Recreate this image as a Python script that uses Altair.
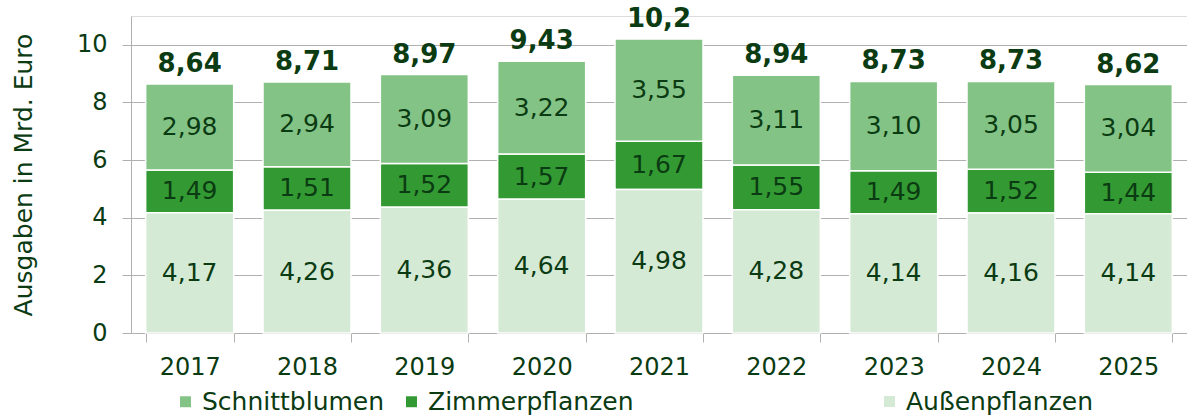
import altair as alt
import pandas as pd

years = ["2017", "2018", "2019", "2020", "2021", "2022", "2023", "2024", "2025"]
aussen = [4.17, 4.26, 4.36, 4.64, 4.98, 4.28, 4.14, 4.16, 4.14]
zimmer = [1.49, 1.51, 1.52, 1.57, 1.67, 1.55, 1.49, 1.52, 1.44]
schnitt = [2.98, 2.94, 3.09, 3.22, 3.55, 3.11, 3.10, 3.05, 3.04]
totals = [8.64, 8.71, 8.97, 9.43, 10.2, 8.94, 8.73, 8.73, 8.62]

series = ["Schnittblumen", "Zimmerpflanzen", "Außenpflanzen"]
colors = ["#84c386", "#339933", "#d5ead5"]
TXT = "#0b3b12"
GRID = "#b0b0b0"
FONT = "DejaVu Sans"

rows = []
for i, y in enumerate(years):
    base = 0.0
    for name, vals in (("Außenpflanzen", aussen), ("Zimmerpflanzen", zimmer), ("Schnittblumen", schnitt)):
        v = vals[i]
        rows.append({"Jahr": y, "Kategorie": name, "Wert": v, "lo": base, "hi": base + v,
                     "mid": base + v / 2, "label": f"{v:.2f}".replace(".", ",")})
        base += v
df = pd.DataFrame(rows)
tot = pd.DataFrame({"Jahr": years, "Summe": totals,
                    "label": [("%g" % t).replace(".", ",") for t in totals]})

xenc = alt.X("Jahr:N", sort=years, title=None,
             scale=alt.Scale(paddingInner=0.25, paddingOuter=0.125),
             axis=alt.Axis(labelFontSize=24, labelColor=TXT, labelFont=FONT, tickSize=9,
                           tickColor=GRID, domainColor=GRID, labelPadding=13,
                           labelAngle=0, bandPosition=0, tickBand="extent", grid=False))

yenc = alt.Y("lo:Q", title="Ausgaben in Mrd. Euro",
             scale=alt.Scale(domain=[0, 11], nice=False),
             axis=alt.Axis(values=[0, 2, 4, 6, 8, 10], labelFontSize=24, labelColor=TXT,
                           labelFont=FONT, titleFont=FONT, titleFontSize=25, titleColor=TXT,
                           titleFontWeight="normal", titlePadding=40, tickSize=9,
                           tickColor=GRID, domainColor=GRID, gridColor=GRID,
                           labelPadding=15))


def legend(x):
    return alt.Legend(title=None, orient="none", direction="horizontal",
                      legendX=x, legendY=373, labelFontSize=25, labelFont=FONT,
                      labelColor=TXT, symbolType="square", symbolSize=120,
                      symbolStrokeWidth=0, labelLimit=600, columnPadding=14, labelOffset=4)


bars_top = alt.Chart(df).transform_filter(
    alt.datum.Kategorie != "Außenpflanzen"
).mark_bar(stroke="white", strokeWidth=1.5).encode(
    x=xenc, y=yenc, y2="hi:Q",
    color=alt.Color("Kategorie:N", scale=alt.Scale(domain=series[:2], range=colors[:2]),
                    legend=legend(42)),
)

bars_bottom = alt.Chart(df).transform_filter(
    alt.datum.Kategorie == "Außenpflanzen"
).mark_bar(stroke="white", strokeWidth=1.5).encode(
    x=alt.X("Jahr:N", sort=years), y=alt.Y("lo:Q"), y2="hi:Q",
    color=alt.Color("Kategorie:N", scale=alt.Scale(domain=series[2:], range=colors[2:]),
                    legend=legend(746)),
)

seg_text = alt.Chart(df).mark_text(fontSize=25, font=FONT, color=TXT).encode(
    x=alt.X("Jahr:N", sort=years), y=alt.Y("mid:Q"), text="label:N")

tot_text = alt.Chart(tot).mark_text(fontSize=26, font=FONT, color=TXT, fontWeight="bold",
                                    dy=-20).encode(
    x=alt.X("Jahr:N", sort=years), y=alt.Y("Summe:Q"), text="label:N")

chart = alt.layer(bars_top, bars_bottom, seg_text, tot_text).resolve_scale(
    color="independent"
).properties(
    width=1056, height=317,
    autosize=alt.AutoSizeParams(type="none"),
    padding={"left": 131, "top": 16, "right": 0, "bottom": 85},
).configure_view(stroke=None).configure(background="white")

chart.save("out.html", embed_options={"renderer": "svg", "actions": False})
